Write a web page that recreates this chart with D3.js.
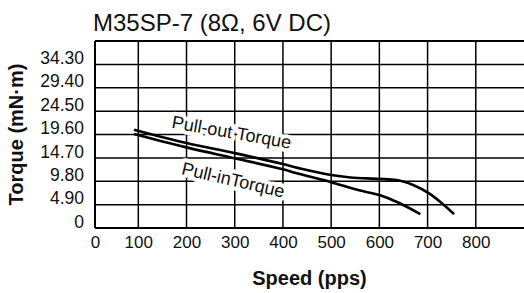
<!DOCTYPE html>
<html>
<head>
<meta charset="utf-8">
<script src="https://cdn.jsdelivr.net/npm/d3@7"></script>
<style>
  html, body { margin: 0; padding: 0; background: #fff; }
  svg { display: block; font-family: "Liberation Sans", Arial, Helvetica, sans-serif; }
</style>
</head>
<body>
<svg id="chart" width="524" height="293"></svg>
<script>
// ---- data ----
const title = "M35SP-7 (8Ω, 6V DC)";
const xLabel = "Speed (pps)";
const yLabel = "Torque (mN·m)";
const xTicks = [0, 100, 200, 300, 400, 500, 600, 700, 800];
const yTicks = [0, 4.90, 9.80, 14.70, 19.60, 24.50, 29.40, 34.30];
const yTickLabels = ["0", "4.90", "9.80", "14.70", "19.60", "24.50", "29.40", "34.30"];

const pullOutSpeed  = [90, 200, 300, 400, 435, 500, 540, 600, 636, 670, 703, 726, 755];
const pullOutTorque = [20.6, 17.8, 15.7, 13.4, 12.5, 11.1, 10.6, 10.3, 10.05, 9.0, 7.25, 5.5, 2.9];
const pullInSpeed   = [90, 200, 300, 400, 435, 500, 558, 600, 640, 685];
const pullInTorque  = [19.7, 16.9, 14.6, 12.3, 11.3, 9.6, 7.9, 6.9, 5.3, 2.9];

const curveLabels = ["Pull-out Torque", "Pull-inTorque"];
const labelSpeed  = [168, 188];
const labelTorque = [21.0, 11.3];
const labelAngle  = [10, 13];

// ---- layout ----
const svg = d3.select("#chart");
const x = d3.scaleLinear().domain([0, 100, 900]).range([95, 138.3, 524]);
const y = d3.scaleLinear().domain([0, 39.2]).range([228, 41]);

// grid
const g = svg.append("g");
g.selectAll("line.h").data(yTicks).join("line")
  .attr("x1", x(0)).attr("x2", 524)
  .attr("y1", d => y(d)).attr("y2", d => y(d))
  .attr("stroke", "#000").attr("stroke-width", 1.5);
g.append("line").attr("x1", x(0)).attr("x2", 524)
  .attr("y1", y(39.2)).attr("y2", y(39.2))
  .attr("stroke", "#000").attr("stroke-width", 2);
g.selectAll("line.v").data(xTicks).join("line")
  .attr("x1", d => x(d)).attr("x2", d => x(d))
  .attr("y1", y(0)).attr("y2", y(39.2))
  .attr("stroke", "#000").attr("stroke-width", 1.5);
g.append("line").attr("x1", x(0)).attr("x2", 524)
  .attr("y1", y(0)).attr("y2", y(0))
  .attr("stroke", "#000").attr("stroke-width", 2);
g.append("line").attr("x1", x(0)).attr("x2", x(0))
  .attr("y1", y(0)).attr("y2", y(39.2))
  .attr("stroke", "#000").attr("stroke-width", 2);

// axes labels via d3 axes
const yAxis = d3.axisLeft(y).tickValues(yTicks).tickSize(0).tickPadding(11)
  .tickFormat((d, i) => yTickLabels[i]);
const ya = svg.append("g").attr("transform", `translate(${x(0)},0)`).call(yAxis);
ya.select(".domain").remove();
ya.selectAll("text").attr("font-size", 17.5).attr("fill", "#111")
  .attr("font-family", "Liberation Sans, Arial, sans-serif").attr("dy", "-0.05em");

const xAxis = d3.axisBottom(x).tickValues(xTicks).tickSize(0).tickPadding(8)
  .tickFormat(d3.format("d"));
const xa = svg.append("g").attr("transform", `translate(0,${y(0)})`).call(xAxis);
xa.select(".domain").remove();
xa.selectAll("text").attr("font-size", 17).attr("fill", "#111")
  .attr("font-family", "Liberation Sans, Arial, sans-serif");

// curve label backgrounds + text
const labels = svg.append("g");
curveLabels.forEach((t, i) => {
  labels.append("text")
    .attr("transform", `translate(${x(labelSpeed[i])},${y(labelTorque[i])}) rotate(${labelAngle[i]})`)
    .attr("font-size", 18).attr("fill", "#111")
    .attr("stroke", "#fff").attr("stroke-width", 8).attr("paint-order", "stroke")
    .attr("stroke-linejoin", "round")
    .text(t);
});

// curves
const line = d3.line().x(d => x(d[0])).y(d => y(d[1])).curve(d3.curveMonotoneX);
const pullOut = pullOutSpeed.map((s, i) => [s, pullOutTorque[i]]);
const pullIn = pullInSpeed.map((s, i) => [s, pullInTorque[i]]);
[pullOut, pullIn].forEach(data => {
  svg.append("path").datum(data).attr("d", line)
    .attr("fill", "none").attr("stroke", "#000").attr("stroke-width", 2.6)
    .attr("stroke-linecap", "butt");
});

// title and axis titles
svg.append("text").attr("x", 93).attr("y", 31)
  .attr("font-size", 24).attr("fill", "#111").text(title);
svg.append("text").attr("x", (x(0) + 524) / 2).attr("y", 285)
  .attr("text-anchor", "middle").attr("font-size", 20).attr("font-weight", "bold")
  .attr("fill", "#111").text(xLabel);
svg.append("text").attr("transform", `translate(23,${(y(0) + y(39.2)) / 2}) rotate(-90)`)
  .attr("text-anchor", "middle").attr("font-size", 20).attr("font-weight", "bold")
  .attr("fill", "#111").text(yLabel);
</script>
</body>
</html>
